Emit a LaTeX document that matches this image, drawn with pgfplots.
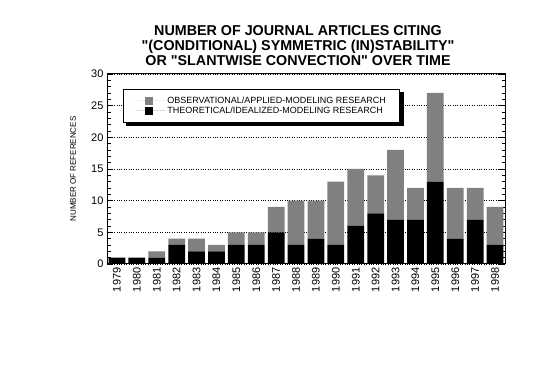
\documentclass[border=0pt]{standalone}
\usepackage{pgfplots}
\pgfplotsset{compat=1.18}
\usepackage{fontspec}
\setmainfont{Liberation Sans}[Ligatures=TeXOff]
\begin{document}
\begin{tikzpicture}
\path[use as bounding box] (0,0) rectangle (536pt,369pt);
\begin{axis}[
  at={(107pt,105pt)}, anchor=south west,
  scale only axis, width=398pt, height=190pt,
  ybar stacked, bar width=0.84,
  xmin=-0.5, xmax=19.5, ymin=0, ymax=30,
  xtick={0,...,19},
  xticklabels={1979,1980,1981,1982,1983,1984,1985,1986,1987,1988,1989,1990,1991,1992,1993,1994,1995,1996,1997,1998},
  x tick label style={rotate=90, anchor=east},
  xtick style={draw=none},
  ytick={0,5,...,30}, minor y tick num=4,
  ytick pos=both, tick align=inside,
  major tick length=6pt, minor tick length=3.5pt,
  every tick/.style={black, line width=0.8pt},
  axis line style={line width=1pt},
  ymajorgrids, major grid style={dotted, black, line width=0.8pt},
  tick label style={font=\fontsize{11}{11}\selectfont},
  /pgf/number format/assume math mode=true,
  ylabel={NUMBER OF REFERENCES},
  ylabel style={font=\fontsize{8}{8}\selectfont, at={(axis description cs:-0.085,0.5)}, anchor=center},
  title={NUMBER OF JOURNAL ARTICLES CITING\\"(CONDITIONAL) SYMMETRIC (IN)STABILITY"\\OR "SLANTWISE CONVECTION" OVER TIME},
  title style={align=center, font=\bfseries\fontsize{14.3}{15}\selectfont, at={(0.48,1)}, anchor=south, yshift=-1pt},
  reverse legend,
  legend cell align=left,
  legend style={name=leg, at={(0.04,0.921)}, anchor=north west, draw=black, line width=0.8pt, fill=white,
    font=\fontsize{9}{10}\selectfont, inner xsep=12pt, inner ysep=5.5pt, row sep=-2pt},
]
\addplot[fill=black, draw=none,
  legend image code/.code={\fill[black] (0pt,-4pt) rectangle (8pt,4pt); \path (-10pt,0pt) -- (20pt,0pt);}] coordinates {
(0,1) (1,1) (2,1) (3,3) (4,2) (5,2) (6,3) (7,3) (8,5) (9,3)
(10,4) (11,3) (12,6) (13,8) (14,7) (15,7) (16,13) (17,4) (18,7) (19,3)};
\addlegendentry{THEORETICAL/IDEALIZED-MODELING RESEARCH}
\addplot[fill=black!50, draw=none,
  legend image code/.code={\fill[black!50] (0pt,-4pt) rectangle (8pt,4pt); \path (-10pt,0pt) -- (20pt,0pt);}] coordinates {
(0,0) (1,0) (2,1) (3,1) (4,2) (5,1) (6,2) (7,2) (8,4) (9,7)
(10,6) (11,10) (12,9) (13,6) (14,11) (15,5) (16,14) (17,8) (18,5) (19,6)};
\addlegendentry{OBSERVATIONAL/APPLIED-MODELING RESEARCH}
\end{axis}
\fill[black] ([xshift=3pt,yshift=-3.5pt]leg.south west) rectangle ([xshift=3.5pt]leg.south east);
\fill[black] ([yshift=-3pt]leg.north east) rectangle ([xshift=3.5pt,yshift=-3.5pt]leg.south east);
\end{tikzpicture}
\end{document}
